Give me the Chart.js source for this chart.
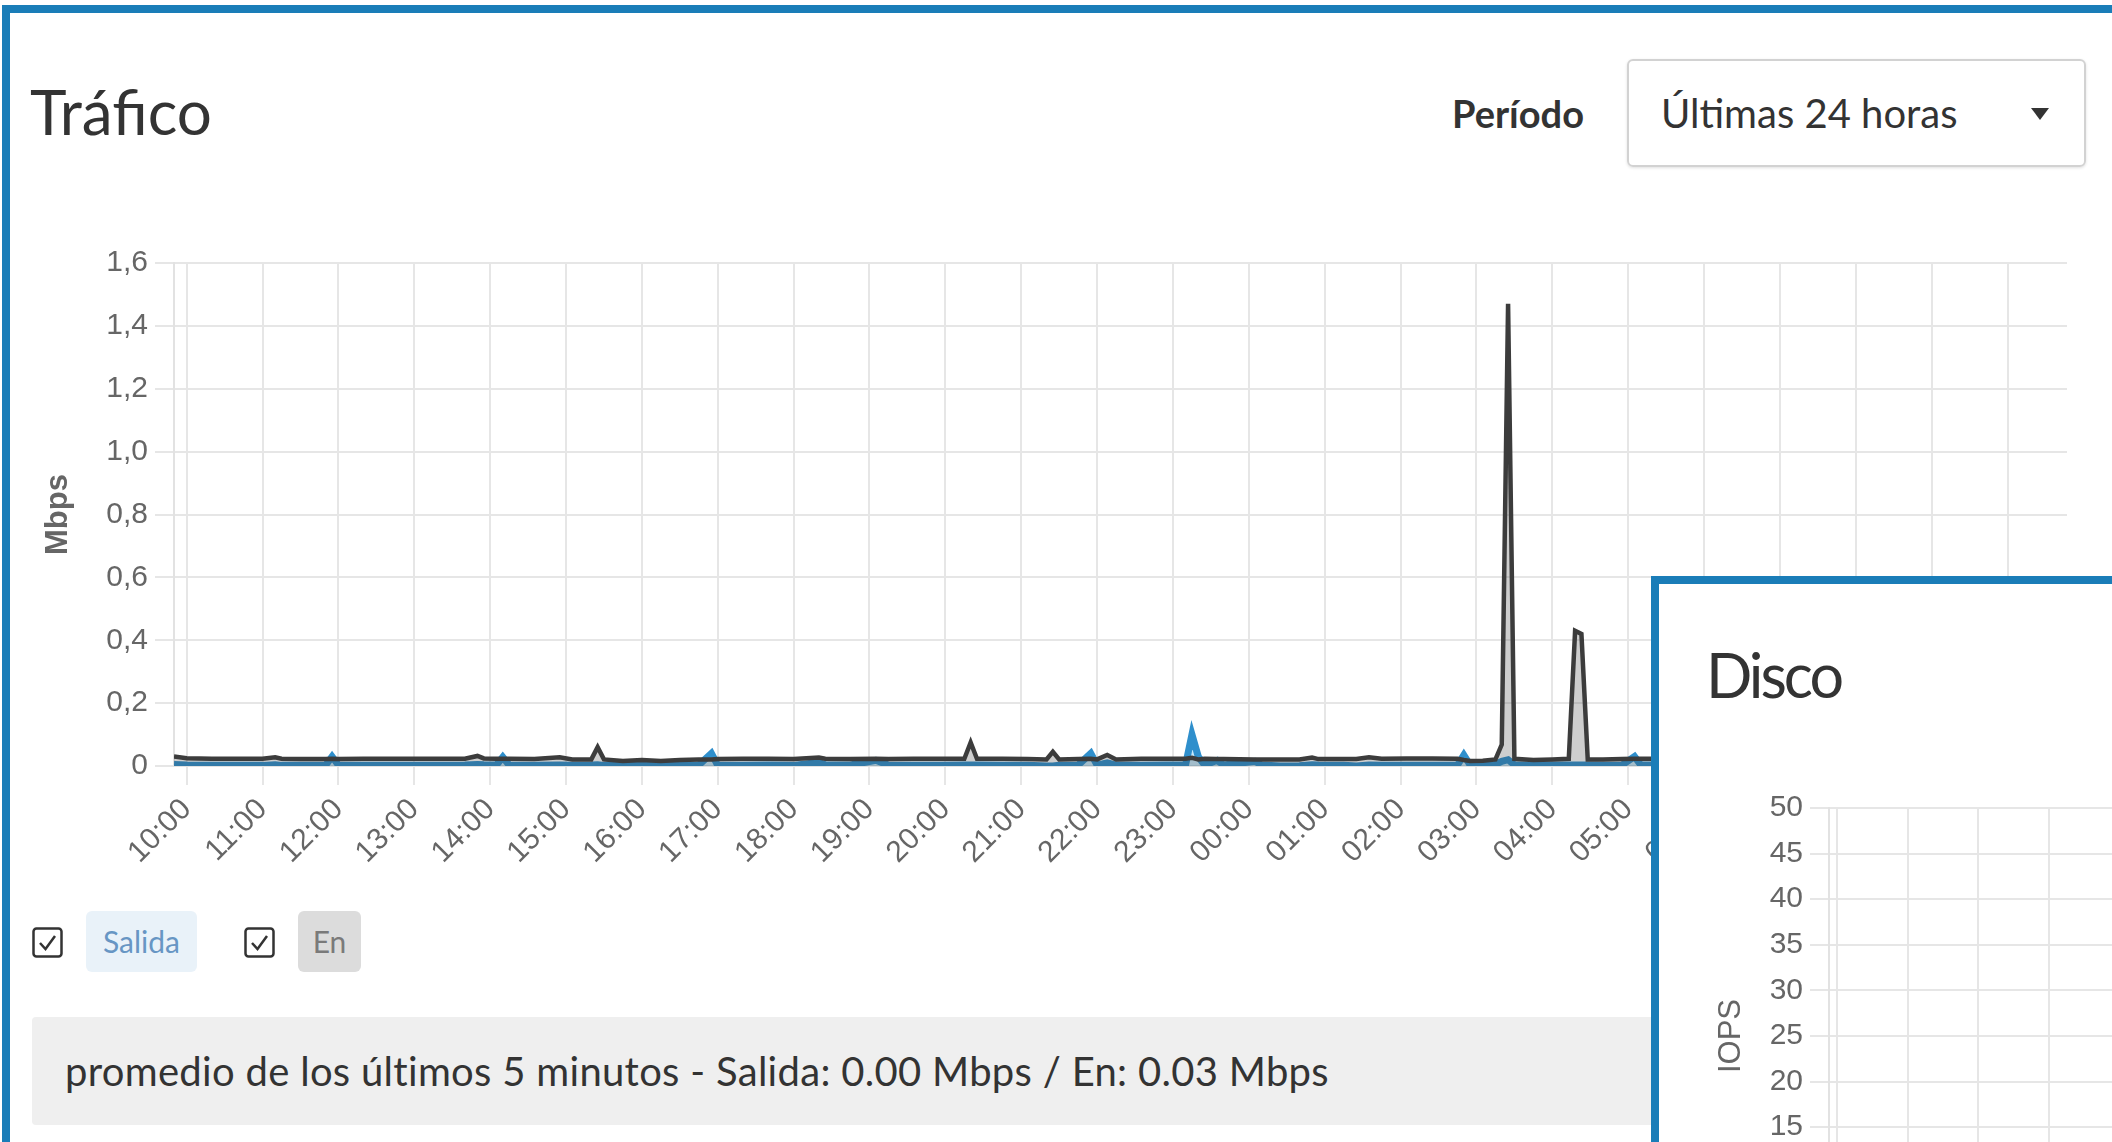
<!DOCTYPE html>
<html>
<head>
<meta charset="utf-8">
<script src="https://cdn.jsdelivr.net/npm/chart.js@4.4.0/dist/chart.umd.min.js"></script>
<style>
html, body { margin:0; padding:0; width:2112px; height:1142px; overflow:hidden; background:#fff; }
body { font-family: Lato, 'Open Sans', sans-serif; color:#333; position:relative; }
.abs { position:absolute; }
.panel { border-left:8px solid #1a7db8; border-top:8px solid #1a7db8; background:#fff; box-sizing:border-box; }
#trafPanel { left:2px; top:5px; width:2300px; height:1300px; }
#trafTitle { left:30px; top:74px; font-size:62px; line-height:74px; }
#periodo { left:1452px; top:90px; font-size:38px; font-weight:bold; line-height:46px; }
#select { left:1627px; top:59px; width:459px; height:108px; border:2px solid #d2d2d2; border-radius:6px;
          box-sizing:border-box; box-shadow:0 1px 3px rgba(0,0,0,0.12); }
#select span { position:absolute; left:32px; top:0; line-height:104px; font-size:40px; }
#select i { position:absolute; left:402px; top:47px; width:0; height:0;
            border-left:9px solid transparent; border-right:9px solid transparent; border-top:12px solid #333; }
#trafWrap { left:0; top:230px; width:2080px; height:680px; }
.chk { width:31px; height:31px; top:927px; }
.pill { top:911px; height:61px; line-height:61px; font-size:30px; border-radius:6px; text-align:center; }
#pillSal { left:86px; width:111px; background:#e9f2f9; color:#6796c4; }
#pillEn { left:298px; width:63px; background:#dcdcdc; color:#7a7a7a; }
#footer { left:32px; top:1017px; width:1700px; height:108px; background:#efefef; border-radius:4px; }
#footer span { position:absolute; left:33px; top:0; line-height:108px; font-size:40px; letter-spacing:0.3px; color:#333; }
#discoPanel { left:1651px; top:576px; width:600px; height:700px; }
#discoTitle { left:1706px; top:638px; font-size:61px; line-height:74px; letter-spacing:-3px; }
#discoWrap { left:1660px; top:770px; width:1930px; height:638px; }
</style>
</head>
<body>
<div id="trafPanel" class="abs panel"></div>
<div id="trafTitle" class="abs">Tráfico</div>
<div id="periodo" class="abs">Período</div>
<div id="select" class="abs"><span>Últimas 24 horas</span><i></i></div>
<div id="trafWrap" class="abs"><canvas id="trafChart"></canvas></div>

<svg class="abs chk" style="left:32px" viewBox="0 0 31 31">
  <rect x="1.5" y="1.5" width="28" height="28" rx="3" fill="#fff" stroke="#333" stroke-width="2.5"/>
  <path d="M8 16 L13.5 22 L23 9" fill="none" stroke="#333" stroke-width="2.5"/>
</svg>
<div id="pillSal" class="abs pill">Salida</div>
<svg class="abs chk" style="left:244px" viewBox="0 0 31 31">
  <rect x="1.5" y="1.5" width="28" height="28" rx="3" fill="#fff" stroke="#333" stroke-width="2.5"/>
  <path d="M8 16 L13.5 22 L23 9" fill="none" stroke="#333" stroke-width="2.5"/>
</svg>
<div id="pillEn" class="abs pill">En</div>

<div id="footer" class="abs"><span>promedio de los últimos 5 minutos - Salida: 0.00 Mbps / En: 0.03 Mbps</span></div>

<div id="discoPanel" class="abs panel"></div>
<div id="discoTitle" class="abs">Disco</div>
<div id="discoWrap" class="abs"><canvas id="discoChart"></canvas></div>

<script>
// sample times (HH:MM), from 09:50 to the next morning
const times = [
  '09:50','10:00','10:20','10:40','11:00','11:10','11:15','11:30','11:50','11:55',
  '12:00','12:20','12:40','13:00','13:20','13:40','13:50','13:55','14:05','14:10',
  '14:15','14:35','14:55','15:05','15:20','15:25','15:30','15:45','16:00','16:15',
  '16:30','16:45','16:55','17:00','17:20','17:40','18:00','18:20','18:25','18:45',
  '19:05','19:15','19:35','19:55','20:15','20:20','20:25','20:45','21:05','21:20',
  '21:25','21:30','21:45','21:55','22:00','22:08','22:15','22:35','22:55','23:10',
  '23:15','23:20','23:25','23:35','23:40','00:05','00:10','00:25','00:40','00:50',
  '00:55','01:15','01:25','01:35','01:45','02:05','02:25','02:45','02:50','02:55',
  '03:05','03:15','03:20','03:25','03:30','03:45','04:00','04:13','04:18','04:23',
  '04:28','04:40','04:55','05:05','05:10','05:20'
];
// Mbps
const entrada = [
  0.030,0.025,0.023,0.023,0.023,0.028,0.023,0.022,0.022,0.023,
  0.022,0.023,0.023,0.023,0.023,0.023,0.032,0.024,0.023,0.023,
  0.023,0.022,0.028,0.021,0.021,0.060,0.021,0.016,0.019,0.016,
  0.019,0.021,0.021,0.022,0.023,0.023,0.022,0.027,0.023,0.022,
  0.023,0.022,0.023,0.023,0.023,0.075,0.023,0.023,0.022,0.021,
  0.045,0.021,0.022,0.023,0.021,0.035,0.021,0.023,0.023,0.023,
  0.026,0.021,0.023,0.022,0.022,0.021,0.021,0.021,0.021,0.027,
  0.022,0.022,0.022,0.028,0.023,0.024,0.024,0.023,0.019,0.016,
  0.017,0.021,0.068,1.470,0.023,0.019,0.021,0.023,0.430,0.420,
  0.021,0.021,0.022,0.023,0.023,0.023
];
const salida = [
  0.005,0.003,0.002,0.002,0.002,0.004,0.002,0.002,0.003,0.030,
  0.003,0.002,0.002,0.002,0.002,0.003,0.005,0.004,0.003,0.028,
  0.003,0.002,0.003,0.002,0.003,0.004,0.002,0.003,0.002,0.003,
  0.002,0.003,0.040,0.002,0.002,0.003,0.002,0.012,0.004,0.003,
  0.018,0.003,0.002,0.002,0.003,0.003,0.003,0.002,0.002,0.000,
  0.000,0.002,0.003,0.040,0.003,0.010,0.003,0.002,0.003,0.004,
  0.100,0.030,0.003,0.018,0.003,0.015,0.003,0.000,0.001,0.004,
  0.003,0.002,0.000,0.003,0.002,0.002,0.002,0.003,0.035,0.003,
  0.003,0.005,0.015,0.020,0.004,0.002,0.003,0.003,0.003,0.003,
  0.003,0.002,0.003,0.030,0.003,0.003
];
const mbpsTicks = [0, 0.2, 0.4, 0.6, 0.8, 1.0, 1.2, 1.4, 1.6];
const iopsTicks = [0, 5, 10, 15, 20, 25, 30, 35, 40, 45, 50];
// hourly ticks, minutes after 10:00
const hourTicks = [0, 60, 120, 180, 240, 300, 360, 420, 480, 540, 600, 660, 720,
                   780, 840, 900, 960, 1020, 1080, 1140, 1200, 1260, 1320, 1380, 1440];

// minutes after 10:00
function toMin(t) {
  const p = t.split(':');
  let m = +p[0] * 60 + +p[1] - 600;
  if (m < -60) m += 1440;
  return m;
}
function hhmm(v) {
  const m = ((Math.round(v) + 600) % 1440 + 1440) % 1440;
  return String(Math.floor(m / 60)).padStart(2, '0') + ':' + String(m % 60).padStart(2, '0');
}

Chart.defaults.font.family = "'Liberation Sans', Arial, sans-serif";
Chart.defaults.color = '#666';
Chart.defaults.animation = false;

const gridStyle = { color: '#e6e6e6', lineWidth: 2, tickLength: 19 };
const tickFont = { size: 30 };

function timeAxis(min, max) {
  return {
    type: 'linear', min: min, max: max,
    grid: gridStyle,
    border: { color: '#e2e2e2', width: 2 },
    afterBuildTicks: s => { s.ticks = hourTicks.map(v => ({ value: v })); },
    ticks: { minRotation: 45, maxRotation: 45, autoSkip: false, padding: 7,
             font: tickFont, callback: v => hhmm(v) },
    afterFit: s => { s.height = 144; }
  };
}

new Chart(document.getElementById('trafChart'), {
  type: 'line',
  data: {
    datasets: [
      {
        label: 'En',
        data: times.map((t, i) => ({ x: toMin(t), y: entrada[i] })),
        borderColor: '#3c3c3c',
        backgroundColor: 'rgba(60,60,60,0.25)',
        borderWidth: 4.5,
        fill: 'origin',
        pointRadius: 0,
        tension: 0,
        order: 0
      },
      {
        label: 'Salida',
        data: times.map((t, i) => ({ x: toMin(t), y: salida[i] })),
        borderColor: '#2f8fcc',
        backgroundColor: 'rgba(90,190,240,0.35)',
        borderWidth: 7,
        fill: 'origin',
        pointRadius: 0,
        tension: 0,
        order: 1
      }
    ]
  },
  options: {
    responsive: true,
    maintainAspectRatio: false,
    layout: { padding: { top: 33, right: 13, left: 0, bottom: 0 } },
    plugins: { legend: { display: false }, tooltip: { enabled: false } },
    scales: {
      x: timeAxis(-10, 1487),
      y: {
        min: 0, max: 1.6,
        grid: gridStyle,
        border: { color: '#e2e2e2', width: 2 },
        afterBuildTicks: s => { s.ticks = mbpsTicks.map(v => ({ value: v })); },
        ticks: { padding: 7, font: tickFont,
                 callback: v => v === 0 ? '0' : v.toFixed(1).replace('.', ',') },
        title: { display: true, text: 'Mbps', font: { size: 31, weight: 'bold' }, padding: { top: 40, bottom: 0 } },
        afterFit: s => { s.width = 174; }
      }
    }
  }
});

// Disco: only the upper part of the IOPS grid is visible
new Chart(document.getElementById('discoChart'), {
  type: 'line',
  data: { datasets: [] },
  options: {
    responsive: true,
    maintainAspectRatio: false,
    layout: { padding: { top: 38, right: 14, left: 0, bottom: 0 } },
    plugins: { legend: { display: false }, tooltip: { enabled: false } },
    scales: {
      x: timeAxis(-7, 1480),
      y: {
        min: 0, max: 50,
        grid: gridStyle,
        border: { color: '#e2e2e2', width: 2 },
        afterBuildTicks: s => { s.ticks = iopsTicks.map(v => ({ value: v })); },
        ticks: { padding: 7, font: tickFont },
        title: { display: true, text: 'IOPS', font: { size: 31 }, padding: { top: 53, bottom: 0 } },
        afterFit: s => { s.width = 169; }
      }
    }
  }
});
</script>
</body>
</html>
